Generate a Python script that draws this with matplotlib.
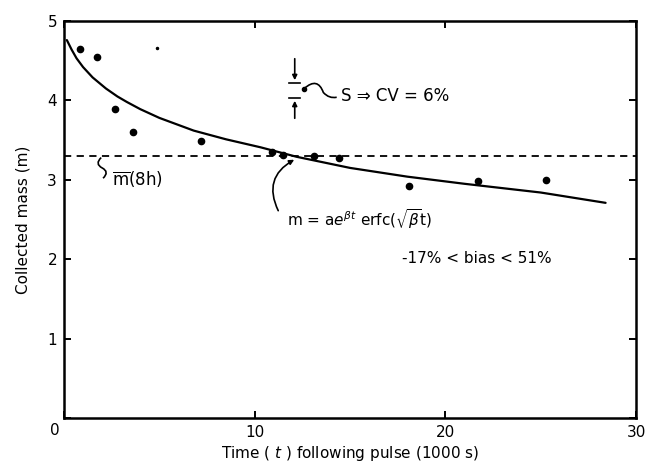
import numpy as np
import matplotlib
matplotlib.use('Agg')
import matplotlib.pyplot as plt
from matplotlib.path import Path
from matplotlib.patches import PathPatch

plt.rcParams['font.family'] = ['DejaVu Sans']

# measured points
t_obs = [0.85, 1.75, 2.7, 3.6, 7.2, 10.9, 11.5, 13.1, 14.4, 18.1, 21.7, 25.3]
m_obs = [4.65, 4.55, 3.89, 3.60, 3.49, 3.35, 3.31, 3.30, 3.28, 2.92, 2.99, 3.00]

# fitted curve
t_fit = [0.15, 0.4, 0.66, 1.0, 1.5, 2.2, 2.8, 3.3, 4.0, 5.0, 6.8, 8.5, 10.3, 12.2, 15.0, 18.0, 21.0, 25.0, 28.4]
m_fit = [4.76, 4.64, 4.53, 4.42, 4.29, 4.15, 4.05, 3.98, 3.89, 3.78, 3.62, 3.51, 3.41, 3.29, 3.15, 3.04, 2.95, 2.84, 2.71]

m_mean = 3.3

x_ticks = [0, 10, 20, 30]
y_ticks = [0, 1, 2, 3, 4, 5]

fig = plt.figure(figsize=(6.45, 4.62), dpi=100)
ax = fig.add_axes([0.0992, 0.0952, 0.887, 0.8593])

ax.plot(t_fit, m_fit, color='black', lw=1.6, solid_capstyle='round', solid_joinstyle='round')
ax.axhline(m_mean, color='black', lw=1.3, ls=(0, (4, 3)))
ax.plot(t_obs, m_obs, 'o', color='black', ms=4.5)
ax.plot([4.9], [4.66], 'o', color='black', ms=1.5)

ax.set_xlim(0, 30)
ax.set_ylim(0, 5)
ax.set_xticks(x_ticks)
ax.set_yticks(y_ticks)
ax.set_xticklabels(['' if v == 0 else str(v) for v in x_ticks])
ax.set_yticklabels(['' if v == 0 else str(v) for v in y_ticks])
ax.text(-0.008, -0.012, '0', transform=ax.transAxes, ha='right', va='top', fontsize=11)
ax.tick_params(direction='in', length=5, width=1.4, labelsize=11,
               top=True, right=True, pad=5)
for s in ax.spines.values():
    s.set_linewidth(1.8)

ax.set_xlabel('Time ( $t$ ) following pulse (1000 s)', fontsize=11, labelpad=3)
ax.set_ylabel('Collected mass (m)', fontsize=11, labelpad=12)

# error-bar style symbol for S
ax.plot([11.8, 12.4], [4.22, 4.22], color='black', lw=1.2)
ax.plot([11.8, 12.4], [4.03, 4.03], color='black', lw=1.2)
ax.annotate('', xy=(12.1, 4.22), xytext=(12.1, 4.56),
            arrowprops=dict(arrowstyle='-|>', color='black', lw=1.2, mutation_scale=7))
ax.annotate('', xy=(12.1, 4.03), xytext=(12.1, 3.74),
            arrowprops=dict(arrowstyle='-|>', color='black', lw=1.2, mutation_scale=7))
ax.plot([12.6], [4.15], 'o', color='black', ms=3)
wave = Path([(12.6, 4.15), (13.3, 4.30), (13.6, 4.10), (13.9, 4.02), (14.3, 4.04)],
            [Path.MOVETO, Path.CURVE3, Path.CURVE3, Path.CURVE3, Path.CURVE3])
ax.add_patch(PathPatch(wave, fill=False, lw=1.2, color='black'))
ax.text(14.55, 4.05, 'S ⇒ CV = 6%', fontsize=12, va='center', ha='left')

# mean label
brace = Path([(1.95, 3.28), (1.6, 3.2), (2.0, 3.15), (2.4, 3.1), (2.05, 3.02)],
             [Path.MOVETO, Path.CURVE3, Path.CURVE3, Path.CURVE3, Path.CURVE3])
ax.add_patch(PathPatch(brace, fill=False, lw=1.2, color='black'))
ax.text(2.5, 3.0, r'$\overline{\mathrm{m}}$(8h)', fontsize=12, va='center', ha='left')

# model label
ax.annotate('', xy=(12.2, 3.27), xytext=(11.3, 2.58),
            arrowprops=dict(arrowstyle='-|>', color='black', lw=1.2, mutation_scale=7,
                            connectionstyle='arc3,rad=-0.5'))
ax.text(11.7, 2.51, r'm = a$e^{\beta t}$ erfc($\sqrt{\beta}$t)', fontsize=11,
        va='center', ha='left')
ax.text(17.7, 2.01, '-17% < bias < 51%', fontsize=11, va='center', ha='left')

fig.savefig('out.png', dpi=100)
